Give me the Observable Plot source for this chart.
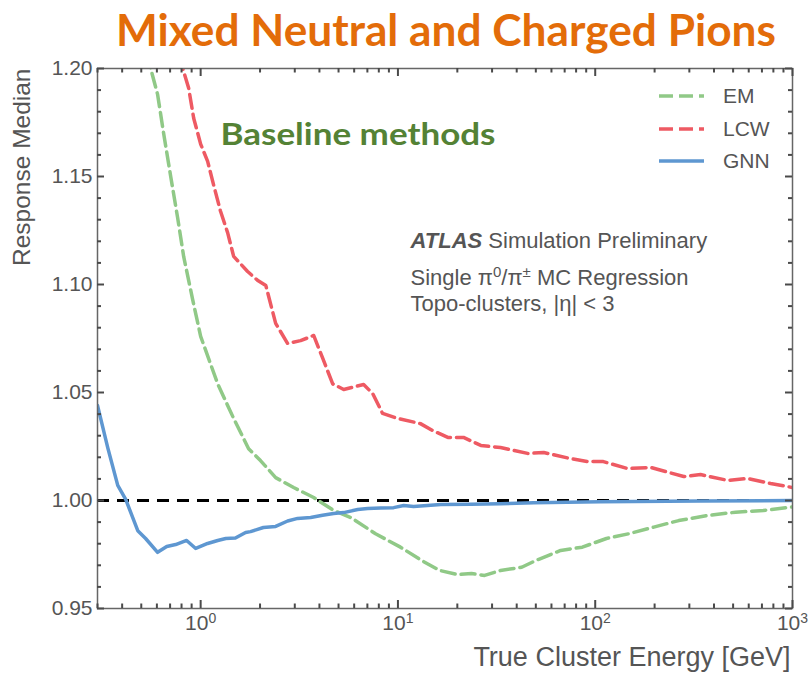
<!DOCTYPE html>
<html>
<head>
<meta charset="utf-8">
<script src="https://cdn.jsdelivr.net/npm/d3@7"></script>
<script src="https://cdn.jsdelivr.net/npm/@observablehq/plot@0.6"></script>
<style>
  html, body { margin: 0; padding: 0; background: #fff; }
  body { width: 809px; height: 673px; overflow: hidden; }
  #title { display: block; }
</style>
</head>
<body>
<svg id="title" width="809" height="58"></svg>
<div id="chart"></div>
<script>
// ---------------- data ----------------
const titleText = "Mixed Neutral and Charged Pions";
const series = ["EM", "LCW", "GNN"];
const colors = ["#90C987", "#EE5A63", "#5E97D1"];

const emE = [0.50, 0.558, 0.605, 0.649, 0.705, 0.764, 0.820, 0.911, 1.00, 1.22, 1.47, 1.75, 2.01, 2.40, 2.96, 3.74, 4.72, 5.8, 7.7, 10.3, 13.2, 16.3, 20.1, 23.6, 27.5, 33.1, 42.4, 49.9, 66.8, 86, 114, 148, 198, 265, 367, 515, 713, 1000];
const emR = [1.225, 1.200, 1.188, 1.170, 1.150, 1.131, 1.113, 1.093, 1.076, 1.054, 1.038, 1.024, 1.0185, 1.0106, 1.0060, 1.0014, 0.9954, 0.9920, 0.9846, 0.9784, 0.9722, 0.9676, 0.9657, 0.9662, 0.9653, 0.9676, 0.9691, 0.9722, 0.9769, 0.9784, 0.9824, 0.9846, 0.9877, 0.9907, 0.9930, 0.9946, 0.9954, 0.9970];

const lcwE = [0.75, 0.811, 0.869, 0.922, 1.00, 1.085, 1.164, 1.26, 1.37, 1.47, 1.73, 1.94, 2.14, 2.40, 2.76, 3.21, 3.74, 4.15, 4.67, 5.31, 6.70, 7.45, 8.36, 9.96, 13.0, 15.0, 17.9, 21.5, 26.3, 33.1, 45.4, 54.8, 75.0, 91.5, 110, 146, 191, 281, 342, 469, 592, 774, 1000];
const lcwR = [1.215, 1.200, 1.191, 1.177, 1.165, 1.157, 1.146, 1.134, 1.124, 1.113, 1.106, 1.102, 1.0995, 1.082, 1.0727, 1.074, 1.0764, 1.066, 1.054, 1.0514, 1.0537, 1.0495, 1.0403, 1.038, 1.0356, 1.0324, 1.0292, 1.0292, 1.0255, 1.0245, 1.0218, 1.0222, 1.0194, 1.018, 1.018, 1.0148, 1.0153, 1.0111, 1.012, 1.0093, 1.0102, 1.0079, 1.006];

const gnnE = [0.30, 0.338, 0.38, 0.417, 0.48, 0.526, 0.605, 0.673, 0.747, 0.849, 0.944, 1.085, 1.22, 1.34, 1.50, 1.69, 1.79, 2.08, 2.40, 2.76, 3.10, 3.61, 4.15, 4.72, 5.31, 6.25, 7.02, 8.17, 9.51, 10.7, 12.0, 14.1, 16.5, 23.4, 33.1, 48.8, 106, 342, 1000];
const gnnR = [1.044, 1.0245, 1.007, 1.0005, 0.986, 0.9824, 0.976, 0.9787, 0.9796, 0.9815, 0.9778, 0.9801, 0.9815, 0.9824, 0.9826, 0.9852, 0.9856, 0.9875, 0.9880, 0.9905, 0.9917, 0.9921, 0.9932, 0.9940, 0.9944, 0.9958, 0.9963, 0.9965, 0.9967, 0.9977, 0.9972, 0.9977, 0.9981, 0.9983, 0.9985, 0.9990, 0.9994, 0.9998, 1.0000];

const xTicks = [1, 10, 100, 1000];
const xTickLabels = ["10^0", "10^1", "10^2", "10^3"];
const yTicks = [0.95, 1.00, 1.05, 1.10, 1.15, 1.20];
const xLabel = "True Cluster Energy [GeV]";
const yLabel = "Response Median";
const noteText = "Baseline methods";
const atlasLines = ["ATLAS Simulation Preliminary", "Single π0/π± MC Regression", "Topo-clusters, |η| < 3"];

// ---------------- build ----------------
const rows = (E, R, s) => E.map((e, i) => ({E: e, R: R[i], s}));
const emRows = rows(emE, emR, series[0]);
const lcwRows = rows(lcwE, lcwR, series[1]);
const gnnRows = rows(gnnE, gnnR, series[2]);

const xMinor = [];
for (let n = -1; n <= 2; n++) for (let k = 2; k <= 9; k++) {
  const v = +(k * Math.pow(10, n)).toPrecision(3);
  if (v >= 0.3 && v <= 1000) xMinor.push(v);
}
const yMinor = d3.range(95, 121).filter(i => i % 5).map(i => i / 100);

const font = "'Liberation Sans', Arial, Helvetica, sans-serif";
const grey = "#555";

const W = 809, H = 615;
const mL = 97, mR = 17, mT = 10, mB = 65;
const fw = W - mL - mR, fh = H - mT - mB;

// inward ticks: full-frame ticks shrunk with insets
const tk = {stroke: "#4a4a4a", strokeWidth: 2};
const tickMarks = [
  Plot.tickX(xTicks, {x: d => d, insetTop: fh - 8, ...tk}),
  Plot.tickX(xMinor, {x: d => d, insetTop: fh - 4.5, ...tk}),
  Plot.tickX(xTicks, {x: d => d, insetBottom: fh - 8, ...tk}),
  Plot.tickX(xMinor, {x: d => d, insetBottom: fh - 4.5, ...tk}),
  Plot.tickY(yTicks, {y: d => d, insetRight: fw - 7, ...tk}),
  Plot.tickY(yMinor, {y: d => d, insetRight: fw - 4, ...tk}),
  Plot.tickY(yTicks, {y: d => d, insetLeft: fw - 7, ...tk}),
  Plot.tickY(yMinor, {y: d => d, insetLeft: fw - 4, ...tk})
];

const chart = Plot.plot({
  width: W,
  height: H,
  marginLeft: mL,
  marginRight: mR,
  marginTop: mT,
  marginBottom: mB,
  style: {fontFamily: font, color: grey, background: "#fff", overflow: "visible"},
  x: {type: "log", domain: [0.3, 1000]},
  y: {domain: [0.95, 1.20]},
  marks: [
    Plot.ruleY([1], {stroke: "#000", strokeWidth: 3, strokeDasharray: "12,8"}),
    Plot.line(emRows, {x: "E", y: "R", stroke: colors[0], strokeWidth: 3.5, strokeDasharray: "14,6", clip: true}),
    Plot.line(lcwRows, {x: "E", y: "R", stroke: colors[1], strokeWidth: 3.5, strokeDasharray: "14,6", clip: true}),
    Plot.line(gnnRows, {x: "E", y: "R", stroke: colors[2], strokeWidth: 3.5, clip: true}),
    Plot.frame({stroke: "#666", strokeWidth: 1.5}),
    ...tickMarks,
    Plot.axisX({anchor: "bottom", ticks: xTicks, tickSize: 0, tickPadding: 7, tickFormat: d => xTickLabels[xTicks.indexOf(d)], fontSize: 21, fill: grey, label: null}),
    Plot.axisY({anchor: "left", ticks: yTicks, tickSize: 0, tickPadding: 5, tickFormat: d3.format(".2f"), fontSize: 21, fill: grey, label: null}),
    Plot.text([yLabel], {frameAnchor: "top-left", rotate: -90, textAnchor: "end", lineAnchor: "middle", dx: -75, dy: 0, fontSize: 24.5, fill: grey}),
    Plot.text([xLabel], {frameAnchor: "bottom-right", textAnchor: "end", lineAnchor: "middle", dx: -2, dy: 49, fontSize: 27, fill: grey}),
    Plot.text([noteText], {frameAnchor: "top-left", textAnchor: "start", lineAnchor: "middle", dx: 123, dy: 67, fontSize: 31, fontWeight: "bold", fontFamily: "Lato, 'Open Sans', sans-serif", fill: "#548235"}),
    Plot.text([atlasLines[0]], {frameAnchor: "top-left", textAnchor: "start", lineAnchor: "middle", dx: 313, dy: 172, fontSize: 22, fill: grey}),
    Plot.text([atlasLines[1]], {frameAnchor: "top-left", textAnchor: "start", lineAnchor: "middle", dx: 313, dy: 209, fontSize: 22, fill: grey}),
    Plot.text([atlasLines[2]], {frameAnchor: "top-left", textAnchor: "start", lineAnchor: "middle", dx: 313, dy: 235, fontSize: 22, fill: grey})
  ]
});

document.getElementById("chart").appendChild(chart);

// ---------------- rich text post-processing ----------------
const svg = d3.select(chart);
svg.selectAll("text").each(function() {
  const t = d3.select(this);
  const s = this.textContent;
  const m = /^10\^(-?\d+)$/.exec(s);
  if (m) {
    t.text("10");
    t.append("tspan").attr("dy", "-7px").attr("font-size", "14px").text(m[1]);
  } else if (s === atlasLines[0]) {
    t.text("");
    t.append("tspan").attr("font-weight", "bold").attr("font-style", "italic").text("ATLAS");
    t.append("tspan").text(" Simulation Preliminary");
  } else if (s === atlasLines[1]) {
    t.text("");
    t.append("tspan").text("Single π");
    t.append("tspan").attr("dy", "-8px").attr("font-size", "15px").text("0");
    t.append("tspan").attr("dy", "8px").text("/π");
    t.append("tspan").attr("dy", "-8px").attr("font-size", "15px").text("±");
    t.append("tspan").attr("dy", "8px").text(" MC Regression");
  } else if (s === noteText) {
    t.attr("textLength", 275).attr("lengthAdjust", "spacingAndGlyphs");
  }
});

// ---------------- legend ----------------
const legY = [38, 71, 103];
const leg = svg.append("g").attr("font-family", font).attr("font-size", 21).attr("fill", grey).attr("text-anchor", "start");
series.forEach((s, i) => {
  leg.append("line")
    .attr("x1", 659).attr("x2", 704).attr("y1", legY[i]).attr("y2", legY[i])
    .attr("stroke", colors[i]).attr("stroke-width", 3.5)
    .attr("stroke-dasharray", i < 2 ? "14,6" : null);
  leg.append("text").attr("x", 723).attr("y", legY[i]).attr("dy", "0.35em").text(s);
});

// ---------------- title ----------------
d3.select("#title").append("text")
  .attr("x", 446).attr("y", 46)
  .attr("text-anchor", "middle")
  .attr("font-family", "Lato, 'Open Sans', sans-serif")
  .attr("font-weight", "bold")
  .attr("font-size", 44)
  .attr("fill", "#E36C09")
  .attr("textLength", 660)
  .attr("lengthAdjust", "spacingAndGlyphs")
  .text(titleText);
</script>
</body>
</html>
